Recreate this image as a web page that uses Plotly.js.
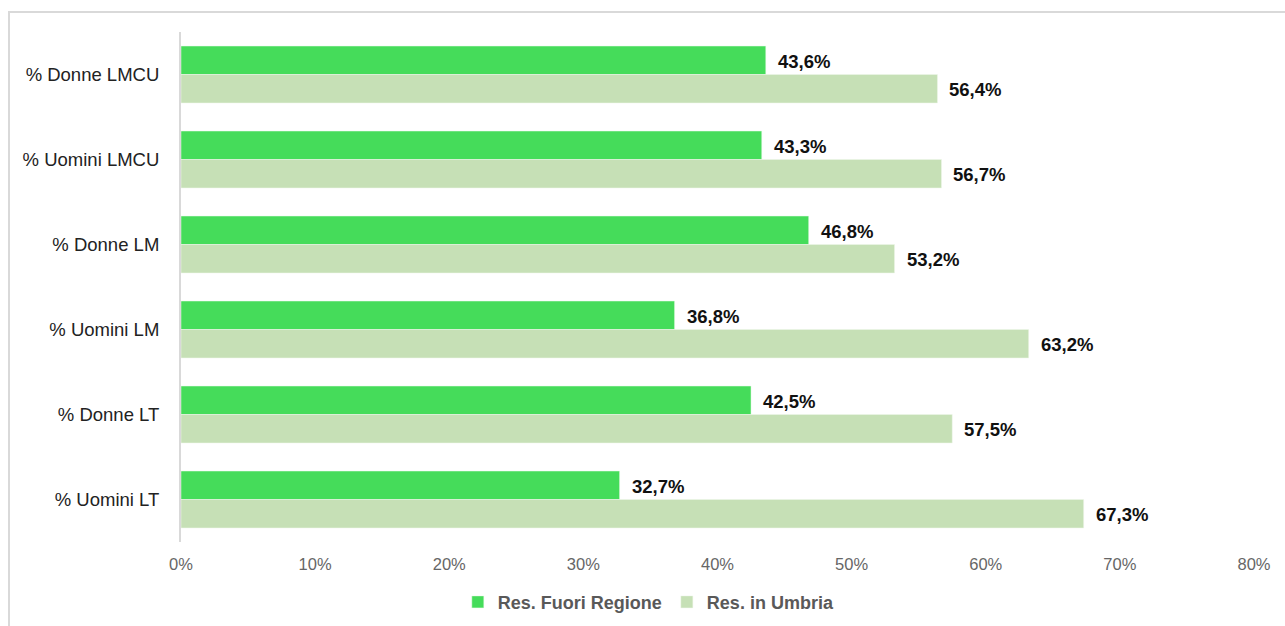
<!DOCTYPE html>
<html>
<head>
<meta charset="utf-8">
<script src="https://cdn.plot.ly/plotly-3.0.1.min.js"></script>
<style>
  html, body { margin:0; padding:0; background:#fff; overflow:hidden; }
  #chart { position:absolute; left:0; top:0; width:1285px; height:626px; }
  #frame { position:absolute; left:8px; top:11px; width:1290px; height:630px;
           border-left:2px solid #d9d9d9; border-top:2px solid #d9d9d9; pointer-events:none; }
</style>
</head>
<body>
<div id="chart"></div>
<div id="frame"></div>
<script>
const categories = ["% Donne LMCU", "% Uomini LMCU", "% Donne LM", "% Uomini LM", "% Donne LT", "% Uomini LT"];
const fuoriRegione = [43.6, 43.3, 46.8, 36.8, 42.5, 32.7];
const inUmbria = [56.4, 56.7, 53.2, 63.2, 57.5, 67.3];
const seriesNames = ["Res. Fuori Regione", "Res. in Umbria"];
const xTicks = [0, 10, 20, 30, 40, 50, 60, 70, 80];

const fmt = v => v.toFixed(1).replace('.', ',') + '%';

const traces = [
  { type:'bar', orientation:'h', name:seriesNames[0], y:categories, x:fuoriRegione,
    marker:{color:'#45DC5A', line:{color:'#eafbe9', width:0.5}}, hoverinfo:'x' },
  { type:'bar', orientation:'h', name:seriesNames[1], y:categories, x:inUmbria,
    marker:{color:'#C6E0B6', line:{color:'#eef6ea', width:0.5}}, hoverinfo:'x' }
];

const annotations = [];
[fuoriRegione, inUmbria].forEach((arr, si) => {
  arr.forEach((v, i) => {
    annotations.push({
      x: v, y: categories[i], xref:'x', yref:'y', text: fmt(v), showarrow:false,
      xanchor:'left', yanchor:'middle', xshift: 10, yshift: si === 0 ? 13 : -15,
      font:{family:'Liberation Sans, Arial, sans-serif', size:18.5, color:'#111', weight:'bold'}
    });
  });
});

const layout = {
  width:1285, height:626,
  margin:{l:181, r:31, t:32, b:84, autoexpand:false},
  paper_bgcolor:'rgba(0,0,0,0)', plot_bgcolor:'rgba(0,0,0,0)',
  barmode:'group', bargap:0.33, bargroupgap:0,
  font:{family:'Liberation Sans, Arial, sans-serif'},
  xaxis:{range:[0,80], tickvals:xTicks, ticktext:xTicks.map(t=>t+'%'), showgrid:false, zeroline:false,
         showline:false, ticks:'', tickfont:{size:16.5, color:'#666'}, ticklabelstandoff:10, fixedrange:true,
         automargin:false},
  yaxis:{autorange:'reversed', showgrid:false, zeroline:false, showline:true, linecolor:'#d9d9d9', linewidth:2,
         ticks:'', tickfont:{size:18.5, color:'#222'}, ticklabelstandoff:16, fixedrange:true, automargin:false},
  showlegend:true,
  legend:{orientation:'h', x:0.436, xanchor:'center', y:-0.118, yanchor:'middle',
          font:{size:18, color:'#595959', weight:'bold'}, itemwidth:30},
  annotations: annotations
};

Plotly.newPlot('chart', traces, layout, {displayModeBar:false, staticPlot:true});
</script>
</body>
</html>
